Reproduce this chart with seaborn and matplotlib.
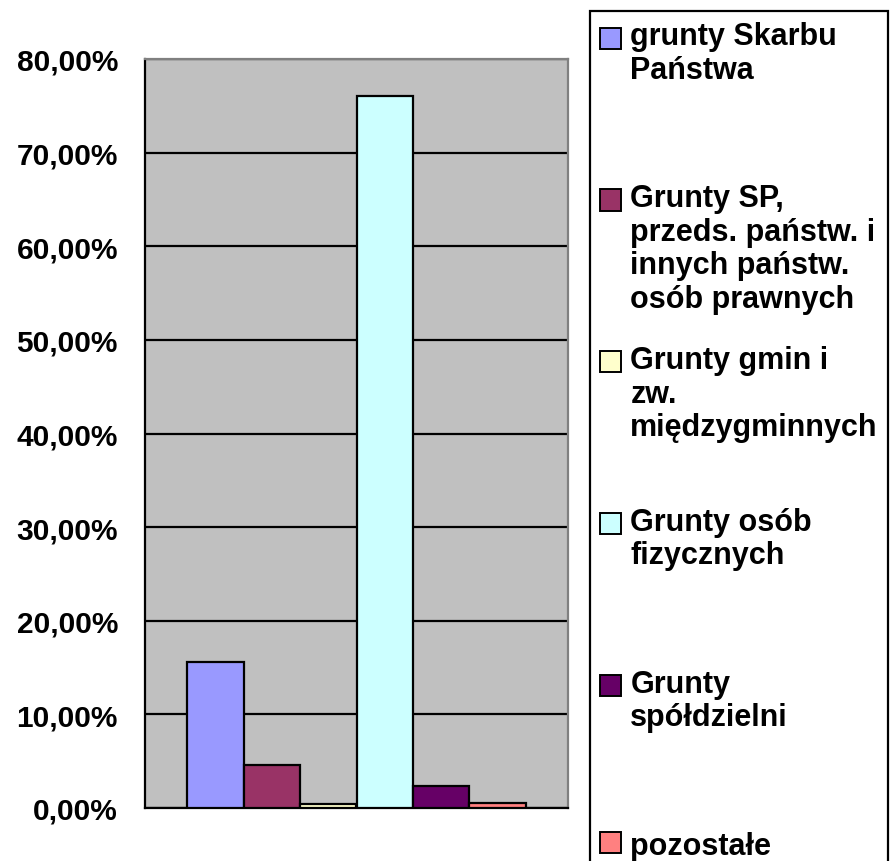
import pandas as pd
import seaborn as sns
import matplotlib
matplotlib.use("Agg")
import matplotlib.pyplot as plt
from matplotlib.patches import Patch, Rectangle
from matplotlib.legend_handler import HandlerPatch
from matplotlib.ticker import FuncFormatter, MultipleLocator
from matplotlib.font_manager import FontProperties

# data (share of area, %)
categories = [
    "grunty Skarbu\nPaństwa",
    "Grunty SP,\nprzeds. państw. i\ninnych państw.\nosób prawnych",
    "Grunty gmin i\nzw.\nmiędzygminnych",
    "Grunty osób\nfizycznych",
    "Grunty\nspółdzielni",
    "pozostałe",
]
values = [15.6, 4.6, 0.4, 76.0, 2.3, 0.5]
colors = ["#9999FF", "#993366", "#FFFFCC", "#CCFFFF", "#660066", "#FF8080"]

df = pd.DataFrame({
    "grupa": ["" for _ in categories],
    "kategoria": categories,
    "udzial": [v / 100 for v in values],
})

sns.set_style("white")
plt.rcParams["font.family"] = ["Liberation Sans", "DejaVu Sans"]
plt.rcParams["font.weight"] = "bold"
plt.rcParams["text.color"] = "black"
plt.rcParams["ytick.color"] = "black"
plt.rcParams["xtick.color"] = "black"

fig = plt.figure(figsize=(8.9, 8.62), dpi=100)
ax = fig.add_axes([145 / 890, 1 - 809 / 862, 423 / 890, 749 / 862])
ax.set_facecolor("#C0C0C0")

sns.barplot(data=df, x="grupa", y="udzial", hue="kategoria", palette=colors,
            saturation=1, edgecolor="black", linewidth=1.6, width=0.8,
            legend=False, ax=ax, zorder=3)

ax.set_xlim(-0.5, 0.5)
ax.set_ylim(0, 0.8)
ax.yaxis.set_major_locator(MultipleLocator(0.1))
ax.yaxis.set_major_formatter(FuncFormatter(lambda v, p: f"{v * 100:.2f}%".replace(".", ",")))
ax.grid(axis="y", color="black", linewidth=1.6, zorder=0)
ax.set_axisbelow(True)
ax.set_xlabel("")
ax.set_ylabel("")
ax.set_xticks([-0.5, 0.5])
ax.set_xticklabels([])
ax.tick_params(axis="x", direction="in", length=8, width=1.6, color="black")
ax.tick_params(axis="y", direction="out", length=9.5, width=1.6, color="black",
               labelcolor="black", pad=10, labelsize=21.5)
for lab in ax.get_yticklabels():
    lab.set_fontweight("bold")

for side in ["left", "bottom"]:
    ax.spines[side].set_color("black")
    ax.spines[side].set_linewidth(1.6)
for side in ["top", "right"]:
    ax.spines[side].set_color("#808080")
    ax.spines[side].set_linewidth(1.6)


class TopHandler(HandlerPatch):
    """Puts the legend square next to the first line of a multi-line label"""
    def __init__(self, shift, **kw):
        super().__init__(**kw)
        self.shift = shift

    def create_artists(self, legend, orig_handle, xdescent, ydescent,
                       width, height, fontsize, trans):
        p = Rectangle((-xdescent, -ydescent + self.shift), width, height)
        self.update_prop(p, orig_handle, legend)
        p.set_transform(trans)
        return [p]


handles = [Patch(facecolor=c, edgecolor="black", linewidth=1.4) for c in colors]
n_lines = 4
# pad every label but the last one to the same number of lines
labels = [c + "\n" * (n_lines - 1 - c.count("\n")) for c in categories[:-1]] + [categories[-1]]
hmap = {h: TopHandler(shift=35.5) for h in handles[:-1]}
hmap[handles[-1]] = TopHandler(shift=0)

leg = fig.legend(handles, labels, loc="upper left",
                 bbox_to_anchor=(590 / 890, 1 - 12 / 862),
                 prop=FontProperties(family="Liberation Sans", weight="bold", size=22),
                 frameon=True, fancybox=False, edgecolor="black", framealpha=1,
                 borderpad=0.33, handlelength=0.69, handleheight=0.69,
                 handletextpad=0.3, labelspacing=1.01, borderaxespad=0,
                 handler_map=hmap)
leg.get_frame().set_linewidth(1.6)
for t in leg.get_texts():
    t.set_linespacing(1.16)
    t.set_color("black")

fig.savefig("out.png", dpi=100)
